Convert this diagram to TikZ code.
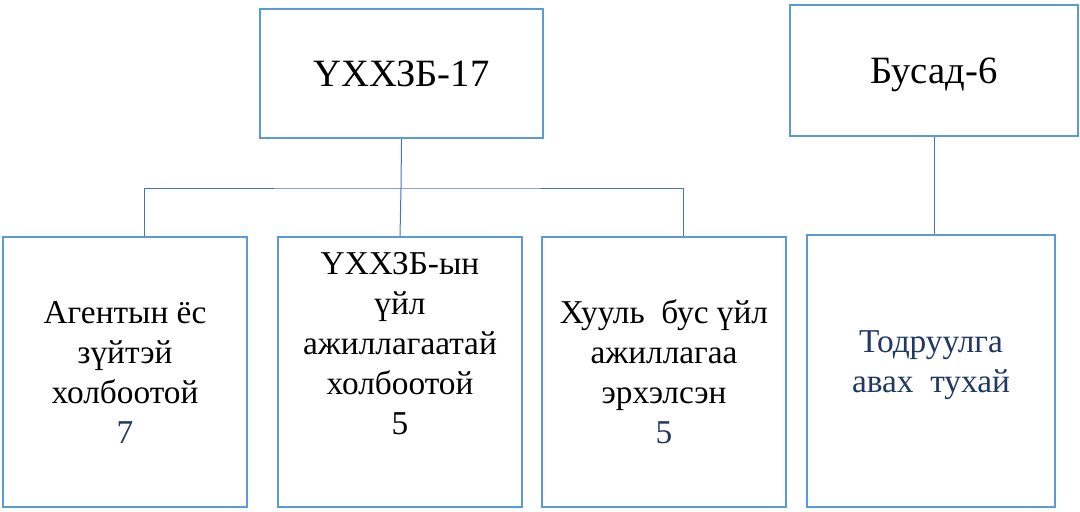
\documentclass[tikz,border=0pt]{standalone}
\usepackage{fontspec}
\setmainfont{Liberation Serif}
\usepackage{tikz}
\definecolor{boxblue}{HTML}{5B9BD5}
\definecolor{linkblue}{HTML}{4472C4}
\definecolor{navy}{HTML}{1F3864}

\begin{document}
\begin{tikzpicture}[x = 0.75pt, y = -0.75pt,
    box/.style = {draw = boxblue, line width = 1.5pt, inner sep = 0pt, align = center,
                  font = \fontsize{25}{30}\selectfont},
    head/.style = {box, text height = 20pt, text depth = 0pt, font = \fontsize{29}{35}\selectfont},
    link/.style = {draw = linkblue, line width = 0.75pt}]
          \useasboundingbox (0,0) rectangle (1080,511);
          \node[head, minimum width = 212.25pt, minimum height = 96.75pt] (main) at (401.5,73.5) {ҮХХЗБ-17};
          \node[head, minimum width = 216pt, minimum height = 98.25pt] (other) at (934,70.5) {Бусад-6};
          \node[box, minimum width = 183pt, minimum height = 202.5pt] (agent) at (125,372)
               {Агентын ёс\\зүйтэй\\холбоотой\\\textcolor{navy}{7}};
          \node[box, minimum width = 183pt, minimum height = 202.5pt] (mid) at (400,372)
               {ҮХХЗБ-ын\\үйл\\ажиллагаатай\\холбоотой\\5\\[13.5pt]\mbox{}};
          \node[box, minimum width = 183pt, minimum height = 202.5pt] (crime) at (664,372)
               {Хууль\ \ бус үйл\\ажиллагаа\\эрхэлсэн\\\textcolor{navy}{5}};
          \node[box, minimum width = 186pt, minimum height = 204pt] (clar) at (931,371)
               {\mbox{}\\[-22pt]\textcolor{navy}{Тодруулга}\\\textcolor{navy}{авах\ \ тухай}};
          % connectors
          \coordinate (bus) at (401,188);
          \draw[link] (main.south) -- (bus);
          \draw[link] ([xshift = 14.25pt]agent.north) |- (bus) -| ([xshift = 14.25pt]crime.north);
          \draw[link] (bus) -- (mid.north);
          \draw[link] (other.south) -- (other.south |- clar.north);
        \end{tikzpicture}
\end{document}
